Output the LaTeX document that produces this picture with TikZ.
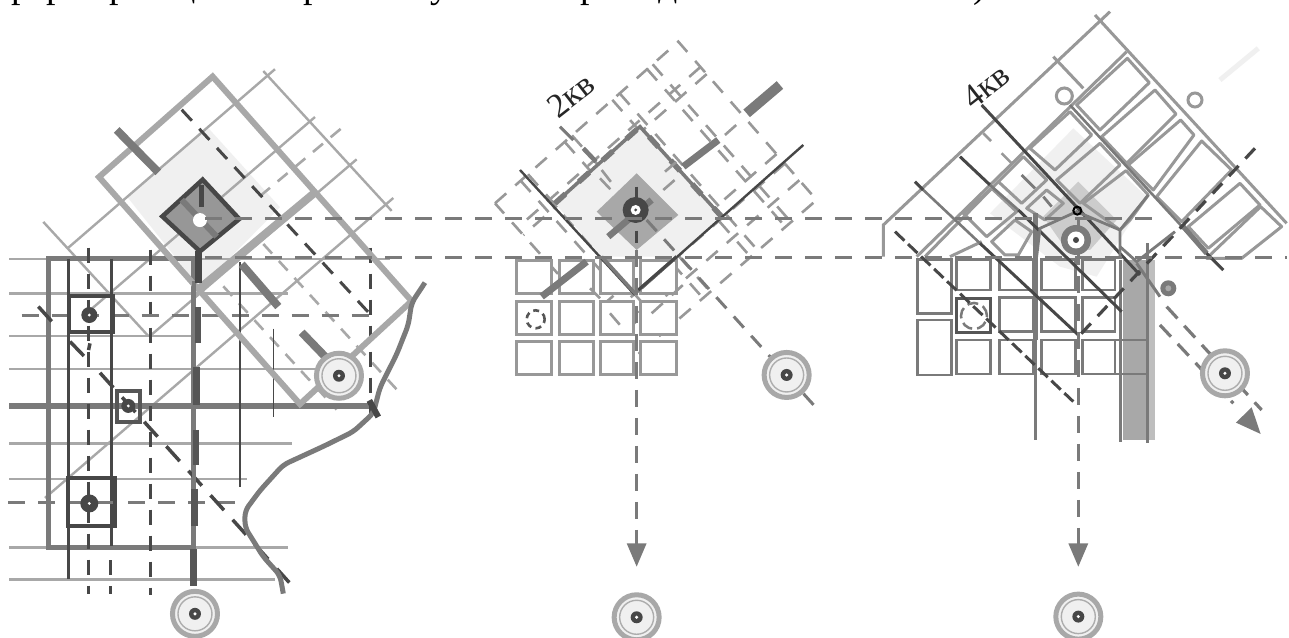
\documentclass[tikz,border=0pt]{standalone}
\usepackage{fontspec}
\setmainfont{Liberation Serif}
\usetikzlibrary{calc}
\definecolor{cA}{HTML}{A8A8A8}
\definecolor{cB}{HTML}{7A7A7A}
\definecolor{cC}{HTML}{474747}
\definecolor{cD}{HTML}{F0F0F0}
\definecolor{cE}{HTML}{989898}
\tikzset{
 thin grey/.style={draw=cA,line width=2.4pt},
 main dash/.style={draw=cB,line width=3pt,dash pattern=on 17pt off 13pt},
 light dash/.style={draw=cA,line width=2.6pt,dash pattern=on 13pt off 10pt},
 dark dash/.style={draw=cC,line width=3pt,dash pattern=on 15pt off 11pt},
 long dash/.style={draw=cC,line width=3.5pt,dash pattern=on 20pt off 13pt},
 street dash/.style={draw=cE,line width=2.6pt,dash pattern=on 15pt off 12pt},
 road/.style={draw=cB,line width=8pt},
 grey frame/.style={draw=cE,fill=white,line width=3pt},
 parcel/.style={draw=cE,line width=3pt},
 arrow fill/.style={fill=cB,draw=none},
 caption/.style={inner sep=0pt,text=black!85,rotate=38},
 cut text/.style={inner sep=0pt,anchor=base,text=black},
}
\newcommand{\tgt}[2]{%
 \fill[cD] (#1,#2) circle[radius=20pt];
 \draw[cE!80,line width=1.4pt] (#1,#2) circle[radius=17pt];
 \draw[cA,line width=5pt] (#1,#2) circle[radius=22.5pt];
 \fill[cC] (#1,#2) circle[radius=6pt];
 \fill[white] (#1,#2) circle[radius=1.7pt];}
\newcommand{\core}[3]{%
 \fill[cC] (#1,#2) circle[radius=#3pt];
 \fill[white] (#1,#2) circle[radius=1.6pt];}
\begin{document}
\begin{tikzpicture}[x=1pt,y=-1pt]
\useasboundingbox (0,0) rectangle (1289,637);
\fill[white] (0,0) rectangle (1289,637);
\clip (0,0) rectangle (1289,637);
% clipped line of text above the figure
\fontsize{38}{38}\selectfont
\node[cut text] (t1) at (21,-2) {р};
\node[cut text] (t2) at (56,-2) {р};
\node[cut text] (t3) at (119,-2) {р};
\node[cut text] (t4) at (313,-2) {р};
\node[cut text] (t5) at (590,-2) {р};
\node[cut text] (t6) at (186,-4) {ц};
\node[cut text] (t7) at (440,-2) {у};
\node[cut text] (t8) at (668,-4) {д};
\node[cut text] (t9) at (980,-2) {)};

% ---------- panel 1
\begin{scope}[shift={(0,60)},x=0.3333pt,y=-0.368pt]
 \fill[cD] (380,370)--(625,185)--(840,400)--(600,620)--cycle;
 \foreach \y/\e in {540/1170,635/865,750/590,840/950,1042/875,1138/740,1325/865,1412/825}
   \draw[thin grey] (28,\y)--(\e,\y);
 \draw[thin grey] (205,510)--(825,25);
 \draw[thin grey] (790,30)--(1175,410);
 \draw[thin grey] (270,680)--(945,155);
 \draw[thin grey] (450,750)--(1070,270);
 \draw[thin grey] (135,1190)--(1180,375);
 \draw[thin grey] (130,440)--(445,750);
 \draw[light dash] (670,615)--(1010,950);
 \draw[light dash] (790,500)--(1190,895);
 \draw[light dash] (780,370)--(1025,185);
 % city frame
 \draw[draw=cB,line width=5.5pt] (145,540) rectangle (580,1325);
 \draw[draw=cB,line width=5.5pt] (28,940)--(1120,940);
 \draw[draw=cC,line width=3pt] (207,540)--(207,1410);
 \draw[draw=cC,line width=3pt] (336,540)--(336,1320);
 \draw[dark dash] (267,510)--(267,1452);
 \draw[dark dash] (453,515)--(453,1455);
 \draw[dark dash] (333,1360)--(333,1452);
 \draw[dark dash] (1113,510)--(1113,960);
 \draw[main dash] (65,693)--(1113,693);
 \draw[main dash] (25,1203)--(745,1203);
 \draw[draw=cC,line width=1.5pt] (720,550)--(720,1160);
 \draw[draw=cC,line width=1.5pt] (821,730)--(821,970);
 % central frame
 \draw[draw=cA,line width=8pt] (945,360)--(600,620);
 \draw[draw=cA,line width=6pt,line join=miter] (638,45)--(297,318)--(900,935)--(1235,655)--cycle;
 % roads
 \draw[road] (350,190)--(475,305);
 \draw[road] (725,555)--(835,670);
 \draw[road] (905,740)--(985,815);
 \draw[long dash] (115,670)--(170,725);
 \draw[long dash] (210,765)--(260,812)--(270,770);
 \draw[long dash] (300,850)--(868,1420);
 \draw[dark dash] (545,135)--(1125,705);
 % centre square
 \draw[draw=cC,fill=cA!90!black,line width=4.5pt,line join=miter] (608,325)--(487,425)--(600,520)--(718,432)--cycle;
 \draw[draw=cB,line width=6pt] (545,380)--(650,480);
 \draw[draw=cC,line width=5pt] (605,340)--(605,400);
 \fill[white] (600,435) circle[radius=7pt];
 % main vertical
 \draw[draw=cB,line width=4pt] (582,600)--(582,1430);
 \draw[draw=cC,line width=7pt] (595,520)--(595,605);
 \foreach \x/\a/\b in {594/672/770,590/835/938,588/1005/1100,584/1165/1265,580/1330/1430}
   \draw[draw=cC!70!cB,line width=6.5pt] (\x,\a)--(\x,\b);
 % boxes
 \draw[draw=cC,line width=4pt] (207,640) rectangle (338,740);
 \draw[draw=cC!70!cB,line width=4pt] (350,900) rectangle (420,985);
 \draw[draw=cC,line width=4pt] (205,1135) rectangle (345,1265);
 \core{268}{693}{8}
 \core{385}{940}{7}
 \core{268}{1205}{9}
 % river
 \draw[draw=cB,line width=5pt,rounded corners=6pt] (1275,605)--(1235,660)--(1225,720)--(1190,800)--(1140,890)--(1120,960)--(1060,1010)--(970,1050)--(850,1100)--(780,1170)--(735,1225)--(735,1270)--(790,1350)--(840,1400)--(850,1450);
 \draw[draw=cC,line width=6pt] (1108,925)--(1135,970);
 \tgt{1017}{858}
 \tgt{585}{1505}
\end{scope}

% ---------- panel 2
\begin{scope}[shift={(470,30)},x=0.3333pt,y=-0.3333pt]
 \coordinate (L) at (75,520);
 \coordinate (T) at (625,35);
 \coordinate (R) at (1040,510);
 \coordinate (B) at (490,985);
 \draw[street dash] (L)--(T)--(R)--(B)--cycle;
 \foreach \f in {0.14,0.18,0.38,0.42,0.64,0.68,0.83,0.86}
   \draw[street dash] ($(L)!\f!(T)$)--($(B)!\f!(R)$);
 \foreach \f in {0.16,0.205,0.71,0.77,0.875}
   \draw[street dash] ($(T)!\f!(R)$)--($(L)!\f!(B)$);
 % blocks hide the streets
 \fill[cD] (510,290)--(755,560)--(620,680)--(495,790)--(395,680)--(255,520)--cycle;
 \fill[white] (395,680)--(495,790)--(620,680)--cycle;
 \foreach \xa/\xb in {140/245,268/372,392/492,513/620}
  \foreach \ya/\yb in {692/792,815/915,935/1035}
   \draw[grey frame] (\xa,\ya) rectangle (\xb,\yb);
 \draw[draw=cC!70!cB,line width=2.6pt,dash pattern=on 6pt off 4.5pt] (197,868) circle[radius=9pt];
 \draw[street dash] (545,850)--(650,755);
 \draw[street dash] (420,850)--(450,885);
 \draw[street dash] (360,775)--(390,805);
 \draw[street dash] (395,420)--(430,465);
 \draw[street dash] (390,445)--(425,482);
 \draw[street dash] (580,480)--(620,445);
 % centre
 \draw[draw=cB,line width=3.5pt] (255,520)--(510,290)--(755,560);
 \draw[draw=cB,line width=5.5pt,dash pattern=on 14pt off 18pt] (255,520)--(510,290)--(755,560);
 \draw[draw=cC,line width=2.4pt] (150,420)--(495,795);
 \draw[draw=cC,line width=2.4pt] (1000,345)--(515,775);
 \draw[draw=cB,line width=3.5pt] (395,680)--(495,790)--(620,680);
 \draw[draw=cC,line width=3pt] (505,780)--(620,680);
 \fill[cA] (500,430)--(380,545)--(500,660)--(625,555)--cycle;
 \draw[road,line width=7pt] (640,410)--(745,330);
 \draw[road,line width=10pt] (830,250)--(930,165);
 \draw[road,line width=7pt] (215,800)--(350,695);
 \draw[road,line width=6.5pt] (415,620)--(545,510);
 \draw[street dash] (585,425)--(620,395);
 \draw[street dash] (765,315)--(810,275);
 \draw[draw=cB,line width=3pt] (270,290)--(310,330);
 \draw[draw=cB,line width=4.5pt] (340,355)--(378,395);
 \draw[draw=cC,line width=3pt,dash pattern=on 12pt off 10pt] (500,470)--(500,670);
 \draw[draw=cB,line width=3pt,dash pattern=on 15pt off 11pt] (530,570)--(1040,1135);
 \draw[draw=cB,line width=3.5pt,dash pattern=on 17pt off 11pt] (500,660)--(500,1600);
 \fill[arrow fill] (500,1610)--(470,1540)--(530,1540)--cycle;
 \fill[cC] (497,540) circle[radius=13pt];
 \fill[white] (497,540) circle[radius=5pt];
 \fill[cC] (497,540) circle[radius=1.6pt];
 \tgt{950}{1035}
 \tgt{500}{1762}
 \node[caption] (kv2) at (303,195) {\fontsize{34}{34}\selectfont 2кв};
\end{scope}

% ---------- panel 3
\begin{scope}[shift={(870,0)},x=0.3333pt,y=-0.3333pt]
 \fill[cD] (360,640)--(610,385)--(830,590)--(680,830)--(570,800)--cycle;
 \fill[black!20] (520,650)--(625,545)--(740,660)--(660,750)--(590,750)--cycle;
 \draw[cD,line width=5pt] (1050,240)--(1165,145);
 % band
 \fill[cA] (760,780) rectangle (832,1320);
 \fill[cA!75] (832,780) rectangle (855,1320);
 % outer lines
 \draw[parcel] (40,770)--(40,675)--(720,35);
 \draw[parcel] (675,45)--(1250,670);
 \draw[parcel] (140,770)--(770,155);
 \draw[parcel] (165,770)--(385,545);
 \draw[parcel] (550,170)--(640,265);
 \draw[parcel] (240,770)--(335,725);
 % parcels
 \foreach \p in {
   {(385,545)--(460,470)--(530,540)--(455,610)},
   {(280,640)--(365,565)--(440,635)--(350,710)},
   {(365,725)--(435,660)--(485,695)--(445,765)--(405,765)},
   {(470,625)--(530,570)--(580,610)--(525,660)},
   {(600,335)--(665,405)--(555,510)--(480,445)},
   {(690,430)--(750,495)--(630,610)--(560,540)},
   {(768,512)--(835,585)--(780,660)--(750,690)--(640,610)},
   {(772,175)--(838,248)--(690,390)--(620,315)},
   {(855,270)--(918,342)--(770,490)--(695,410)},
   {(932,360)--(972,405)--(850,570)--(775,495)},
   {(995,423)--(1085,510)--(935,665)--(860,590)},
   {(1110,550)--(1170,615)--(1015,745)--(955,680)},
   {(1172,620)--(1235,680)--(1115,775)--(1010,775)}}
 {\draw[parcel,line join=round] \p -- cycle;}
 \draw[draw=cE,line width=2.6pt,dash pattern=on 11pt off 9pt] (340,400)--(375,435);
 \draw[draw=cE,line width=2.6pt] (395,460)--(425,490);
 \draw[draw=cB,line width=2.8pt] (455,525)--(495,565);
 \draw[draw=cB,line width=2.8pt] (520,590)--(545,620);
 % blocks
 \draw[draw=cB,line width=2.8pt] (142,778) rectangle (245,940);
 \draw[draw=cB,line width=2.8pt] (142,960) rectangle (245,1125);
 \foreach \xa/\xb in {388/490,515/617,638/735}
  \foreach \ya/\yb in {778/870,893/995}
   \draw[draw=cB,line width=2.8pt] (\xa,\ya) rectangle (\xb,\yb);
 \draw[draw=cB,line width=2.8pt] (260,778) rectangle (362,870);
 \foreach \xa/\xb in {260/362,388/490,515/617,638/735}
   \draw[draw=cB,line width=2.8pt] (\xa,1020) rectangle (\xb,1122);
 \draw[draw=cC!70!cB,line width=3.5pt] (260,895) rectangle (362,998);
 \draw[draw=white,line width=3pt] (312,948) circle[radius=13pt];
 \draw[draw=cB,line width=2.5pt,dash pattern=on 11pt off 5pt] (312,948) circle[radius=13pt];
 % verticals
 \draw[draw=cB,line width=3pt] (498,640)--(498,1320);
 \draw[draw=cB,line width=5pt] (498,640)--(498,1020);
 \draw[draw=cB,line width=3pt] (752,780)--(752,1325);
 \draw[draw=cB,line width=3pt] (832,730)--(832,1330);
 \draw[draw=cB,line width=2.8pt] (735,1020)--(832,1020);
 \draw[draw=cB,line width=2.8pt] (735,1122)--(832,1122);
 % diagonals
 \draw[draw=cC,line width=3pt] (335,315)--(810,825);
 \draw[draw=cB,line width=2.6pt] (600,315)--(1010,760);
 \draw[draw=cB,line width=5pt] (940,680)--(1010,760);
 \draw[draw=cC,line width=3pt] (1010,760)--(1060,810);
 \draw[draw=cC,line width=3pt] (270,470)--(360,555);
 \draw[draw=cB,line width=2.6pt] (360,555)--(445,630);
 \draw[draw=cC,line width=3pt] (445,630)--(755,935);
 \draw[draw=cC,line width=3pt] (135,545)--(160,570);
 \draw[draw=cB,line width=2.6pt] (160,570)--(330,730);
 \draw[draw=cC,line width=3pt] (330,730)--(625,1005);
 \draw[draw=cC,line width=3pt,dash pattern=on 13pt off 5pt] (75,695)--(610,1205);
 \draw[draw=cC,line width=3.2pt,dash pattern=on 14pt off 10pt] (1155,445)--(630,1005);
 % pentagon around the centre
 \draw[draw=cB,line width=2.8pt] (500,770)--(510,685)--(620,635)--(750,690)--(750,770);
 \draw[draw=cB,line width=2.8pt] (750,690)--(835,585);
 \draw[draw=cB,line width=2.8pt] (750,740)--(800,785)--(915,695);
 % dashed vertical and arrow
 \draw[draw=cB,line width=3.5pt,dash pattern=on 17pt off 11pt] (625,660)--(625,1650);
 \fill[arrow fill] (625,1700)--(595,1630)--(655,1630)--cycle;
 % right arrow
 \draw[draw=cB,line width=3pt] (800,790)--(870,890);
 \draw[draw=cB,line width=3.2pt,dash pattern=on 16pt off 10pt] (890,920)--(1175,1230);
 \draw[draw=cB,line width=3.2pt,dash pattern=on 16pt off 10pt] (870,975)--(1090,1210);
 \fill[arrow fill] (1172,1302)--(1098,1268)--(1145,1222)--cycle;
 \tgt{1065}{1120}
 \tgt{625}{1850}
 \fill[cB] (618,720) circle[radius=15pt];
 \fill[white] (618,720) circle[radius=8.5pt];
 \fill[cC] (618,720) circle[radius=3pt];
 \draw[draw=black,line width=2pt] (622,632) circle[radius=4pt];
 \fill[cB] (895,865) circle[radius=8pt];
 \fill[cA] (895,865) circle[radius=3pt];
 \draw[draw=cE,line width=3pt] (583,288) circle[radius=8pt];
 \draw[draw=cE,line width=3pt] (975,300) circle[radius=7pt];
 \node[caption] (kv4) at (347,258) {\fontsize{34}{34}\selectfont 4кв};
\end{scope}

% long dashed axes across the panels
\draw[main dash] (205,218)--(1160,218);
\draw[main dash] (205,257)--(1287,257);
\end{tikzpicture}
\end{document}
